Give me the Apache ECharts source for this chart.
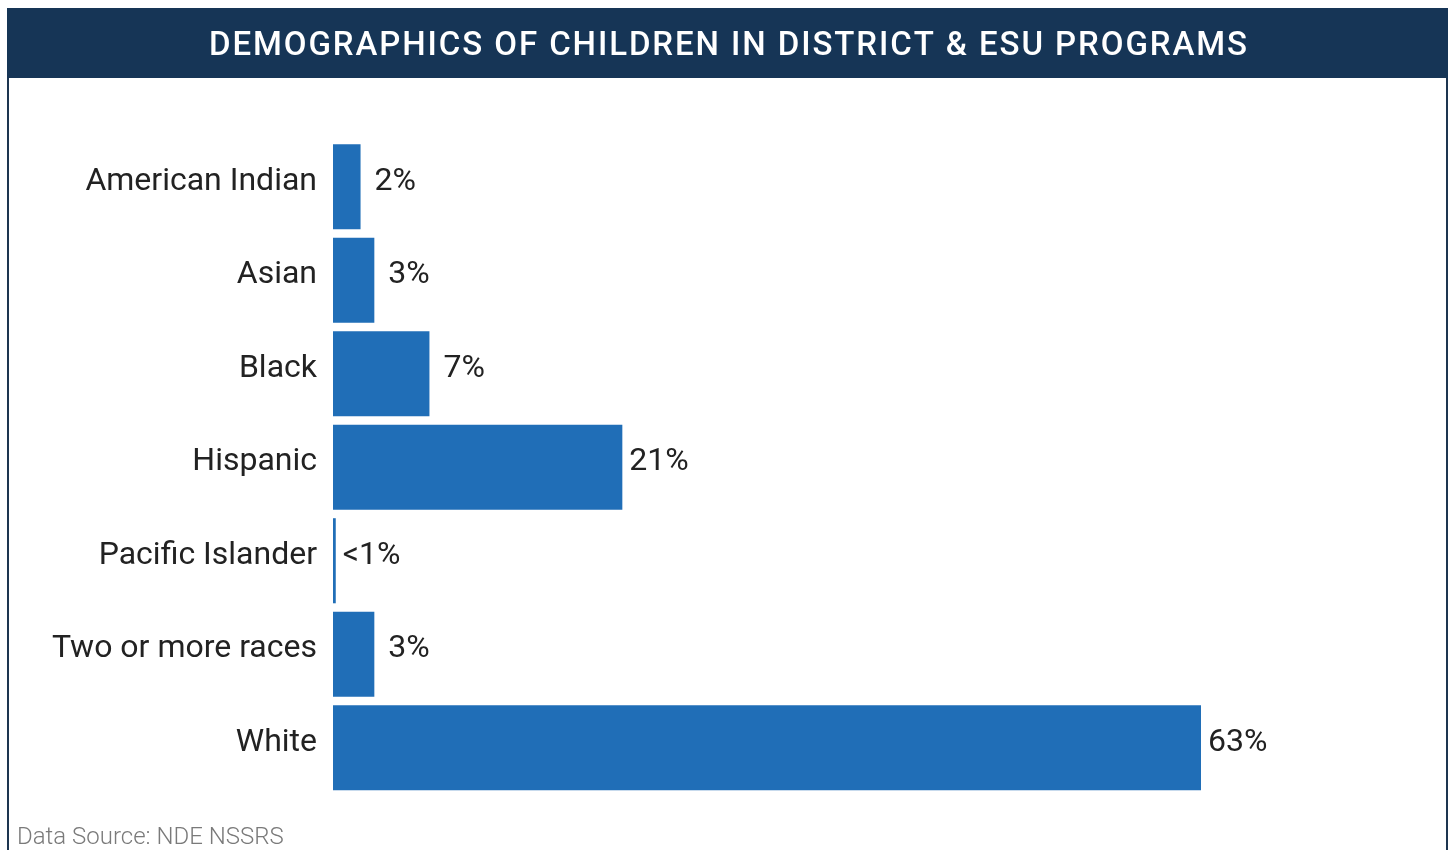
<!DOCTYPE html>
<html>
<head>
<meta charset="utf-8">
<script src="https://cdn.jsdelivr.net/npm/echarts@6/dist/echarts.min.js"></script>
<style>
html,body{margin:0;padding:0;background:#fff;}
#c{width:1452px;height:850px;}
</style>
</head>
<body>
<div id="c"></div>
<script>
const categories = ["American Indian","Asian","Black","Hispanic","Pacific Islander","Two or more races","White"];
const values = [2, 3, 7, 21, 0.2, 3, 63];
const valueLabels = ["2%","3%","7%","21%","<1%","3%","63%"];
const titleText = "DEMOGRAPHICS OF CHILDREN IN DISTRICT & ESU PROGRAMS";
const sourceText = "Data Source: NDE NSSRS";

// title with letter spacing: lay out characters individually
const titleFont = '500 33px Roboto';
const mctx = document.createElement('canvas').getContext('2d');
mctx.font = titleFont;
const chars = titleText.split('');
const widths = chars.map(ch => mctx.measureText(ch).width);
const natural = widths.reduce((a,b)=>a+b,0);
const targetW = 1038;
const spacing = (targetW - natural) / (chars.length - 1);
let cx = 728 - targetW / 2;
const titleGraphics = chars.map((ch, i) => {
  const g = { type:'text', x:cx, y:47, z:2, style:{ text:ch, fill:'#ffffff', font:titleFont, align:'left', verticalAlign:'middle' } };
  cx += widths[i] + spacing;
  return g;
});

const chart = echarts.init(document.getElementById('c'), null, {renderer:'canvas'});
const data = values.map((v,i)=>({
  value: v,
  label: { distance: valueLabels[i].length <= 2 ? 14 : 7 }
}));
chart.setOption({
  animation: false,
  backgroundColor: '#ffffff',
  graphic: [
    { type:'rect', shape:{x:7,y:8,width:1441,height:70}, style:{fill:'#163556'}, z:1 },
    { type:'line', shape:{x1:8,y1:78,x2:8,y2:850}, style:{stroke:'#1d3550',lineWidth:2}, z:1 },
    { type:'line', shape:{x1:1447,y1:78,x2:1447,y2:850}, style:{stroke:'#1d3550',lineWidth:2}, z:1 },
    ...titleGraphics,
    { type:'text', x:17, y:838, z:2, style:{ text:sourceText, fill:'#7a7a7a', font:'300 24px Roboto', align:'left', verticalAlign:'middle' } }
  ],
  grid: { left:333, top:140, width:868, height:654.5, containLabel:false },
  xAxis: { type:'value', min:0, max:63, show:false },
  yAxis: {
    type:'category', data:categories, inverse:true,
    axisLine:{show:false}, axisTick:{show:false}, splitLine:{show:false},
    axisLabel:{ margin:16, formatter:(v)=>'{a|' + v + '}',
      rich:{ a:{ color:'#222222', fontSize:32, fontFamily:'Roboto', padding:[0,0,10,0] } } }
  },
  series: [{
    type:'bar', data:data, barCategoryGap:'9%',
    itemStyle:{ color:'#206eb7' },
    label:{ show:true, position:'right', color:'#222222', fontSize:32, fontFamily:'Roboto', offset:[0,-5],
      formatter:(p)=>valueLabels[p.dataIndex] }
  }]
});
</script>
</body>
</html>
